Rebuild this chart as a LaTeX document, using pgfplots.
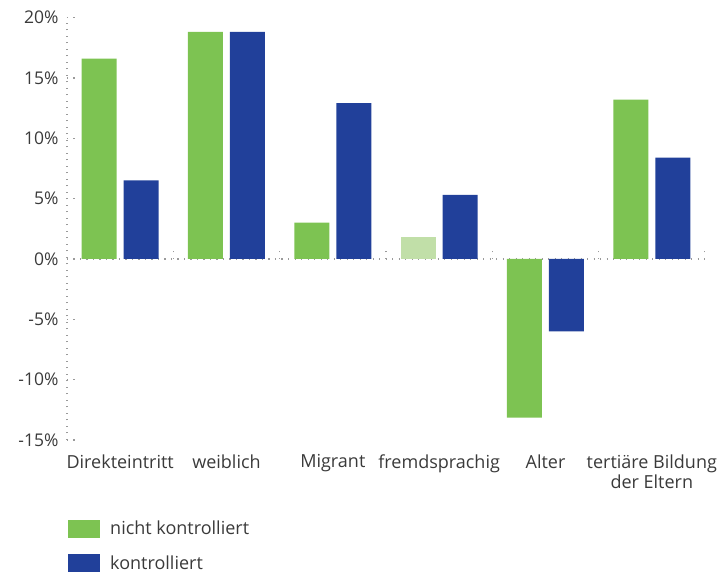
\documentclass[border=0pt]{standalone}
\usepackage{fontspec}
\setmainfont{Open Sans}
\usepackage{pgfplots}
\pgfplotsset{compat=1.18}
\definecolor{grn}{HTML}{7DC352}
\definecolor{grnlight}{HTML}{C1DFA8}
\definecolor{blu}{HTML}{21409A}
\definecolor{txt}{HTML}{3A3A3A}
\definecolor{dotc}{HTML}{9A9A9A}
\tikzset{dots/.style={dotc, line width=1.3pt, dash pattern=on 1.3pt off 5.2pt}}

\begin{document}
\begin{tikzpicture}
\useasboundingbox (-67pt,-133pt) rectangle (654pt,440pt);
\begin{axis}[
    at={(0,0)}, anchor=south west,
    scale only axis,
    width=638pt, height=422.5pt,
    xmin=-0.5, xmax=5.5,
    ymin=-15, ymax=20,
    axis lines*=left,
    x axis line style={draw=none},
    y axis line style={dots},
    xtick={0,1,2,3,4,5},
    xticklabels={Direkteintritt, weiblich, Migrant, fremdsprachig, Alter, {tertiäre Bildung\\der Eltern}},
    x tick label style={align=center, text=txt, font=\fontsize{18}{20}\selectfont, yshift=-11pt},
    xtick style={draw=none},
    ytick={-15,-10,-5,0,5,10,15,20},
    yticklabels={-15\%,-10\%,-5\%,0\%,5\%,10\%,15\%,20\%},
    y tick label style={text=txt, font=\fontsize{17.5}{20}\selectfont, xshift=-5pt},
    ytick style={dots},
    tick align=inside,
    major tick length=8pt,
    extra y ticks={0},
    extra y tick labels={},
    extra y tick style={grid=major, major grid style={dots}},
    legend style={at={(0,0)}, anchor=north west, yshift=-77pt, xshift=-2pt,
        draw=none, fill=none, font=\fontsize{18}{20}\selectfont, text=txt,
        row sep=15pt, legend cell align=left,
        /tikz/every odd column/.append style={column sep=8pt}},
    legend image code/.code={\fill[#1] (0pt,-9pt) rectangle (32pt,9pt);},
]
\addplot[ybar, bar width=35pt, bar shift=-21pt, fill=grn, draw=none]
    coordinates {(0,16.6) (1,18.8) (2,3.0) (4,-13.15) (5,13.2)};
\addlegendentry{nicht kontrolliert}
\addplot[ybar, bar width=35pt, bar shift=21pt, fill=blu, draw=none]
    coordinates {(0,6.5) (1,18.8) (2,12.9) (3,5.3) (4,-6.0) (5,8.4)};
\addlegendentry{kontrolliert}
\addplot[ybar, bar width=35pt, bar shift=-21pt, fill=grnlight, draw=none, forget plot]
    coordinates {(3,1.8)};
\pgfplotsinvokeforeach{0.5,1.5,2.5,3.5,4.5,5.5}{
    \draw[dots] (axis cs:#1,0) -- ++(0pt,8pt);
}
\end{axis}
\end{tikzpicture}
\end{document}
